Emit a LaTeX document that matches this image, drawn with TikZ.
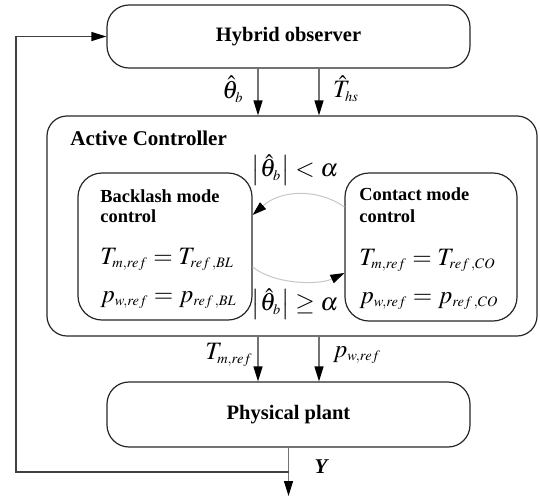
\documentclass[tikz,border=0pt]{standalone}
\usepackage{mathptmx}
\usepackage[no-math]{fontspec}
\setmainfont{Liberation Serif}
\usetikzlibrary{arrows.meta,calc}
\DeclareMathSizes{12.5}{12.5}{7.2}{5.5}
\tikzset{
 box/.style={draw=black!85, line width=0.6pt, rounded corners=11pt, align=center, font=\fontsize{10.25}{12}\selectfont\bfseries},
 inbox/.style={draw=black!85, line width=0.6pt, rounded corners=12pt},
 sig/.style={draw=black!55, line width=0.6pt, -{Triangle[length=7.5pt,width=4.5pt,color=black]}},
 fbk/.style={draw=black!75, line width=0.6pt, -{Triangle[length=7.5pt,width=4.5pt,color=black]}},
 arcln/.style={draw=black!22, line width=0.5pt, -{Triangle[length=7pt,width=4.5pt,color=black]}},
 lbl/.style={font=\fontsize{9.2}{11}\selectfont\bfseries, anchor=base west, inner sep=0pt},
 ttl/.style={font=\fontsize{10.5}{12}\selectfont\bfseries, anchor=base west, inner sep=0pt},
 eq/.style={font=\fontsize{12.5}{14}\selectfont, anchor=base west, inner sep=0pt},
 mlab/.style={font=\fontsize{12.5}{14}\selectfont, inner sep=0pt},
}
\begin{document}
\begin{tikzpicture}[x=0.5pt,y=-0.5pt]
\useasboundingbox (0,0) rectangle (540,499);
% main blocks
\node[box, minimum width=181.5pt, minimum height=31.5pt] (obs) at (288.5,36.5) {Hybrid observer};
\node[inbox, rounded corners=10pt, minimum width=245pt, minimum height=110pt] (ac) at (292,226) {};
\node[box, minimum width=181.5pt, minimum height=32.5pt] (plant) at (288.5,414.5) {Physical plant};
\node[ttl] (actl) at (70,145) {Active Controller};
% inner blocks
\node[inbox, minimum width=87pt, minimum height=73.5pt] (bl) at (165,246.5) {};
\node[inbox, minimum width=86pt, minimum height=74pt] (ct) at (431,247) {};
\node[lbl] (bl1) at (100,202) {Backlash mode};
\node[lbl] (bl2) at (100,222) {control};
\node[eq] (bl3) at (100,264) {$T_{m,ref}=T_{ref\,,BL}$};
\node[eq] (bl4) at (100,302) {$p_{w,ref}=p_{ref\,,BL}$};
\node[lbl] (ct1) at (359,200) {Contact mode};
\node[lbl] (ct2) at (359,222) {control};
\node[eq] (ct3) at (359,265) {$T_{m,ref}=T_{ref\,,CO}$};
\node[eq] (ct4) at (359,303) {$p_{w,ref}=p_{ref\,,CO}$};
% mode switching arcs
\draw[arcln] ([yshift=20pt]ct.west) .. controls +(-27,-19) and +(28,-25) .. ([yshift=15.75pt]bl.east);
\draw[arcln] ([yshift=-10.25pt]bl.east) .. controls +(23,18) and +(-25,12) .. ([yshift=-13pt]ct.west);
\node[mlab] (cond1) at (295,170) {$\left|\hat{\theta}_b\right| < \alpha$};
\node[mlab] (cond2) at (295,304) {$\left|\hat{\theta}_b\right| \geq \alpha$};
% signals
\draw[sig] ([xshift=-15.25pt]obs.south) -- ([xshift=-15.25pt]obs.south |- ac.north);
\draw[sig] ([xshift=15.25pt]obs.south) -- ([xshift=15.25pt]obs.south |- ac.north);
\node[mlab] (th) at (233,89) {$\hat{\theta}_b$};
\node[mlab] (ths) at (346,89) {$\hat{T}_{hs}$};
\draw[sig] ([xshift=-15.25pt]plant.north |- ac.south) -- ([xshift=-15.25pt]plant.north);
\draw[sig] ([xshift=15.25pt]plant.north |- ac.south) -- ([xshift=15.25pt]plant.north);
\node[mlab] (tm) at (229,355) {$T_{m,ref}$};
\node[mlab] (pw) at (357,355) {$p_{w,ref}$};
% output and feedback
\coordinate (yend) at (288.5,496);
\coordinate (fb) at (16,472);
\coordinate (j) at (plant.south |- fb);
\draw[sig] (plant.south) -- (yend);
\draw[fbk] (j) -- (fb) |- (obs.west);
\node[font=\fontsize{10.5}{12}\selectfont\bfseries\itshape, inner sep=0pt] (ylab) at (321,467) {Y};
\end{tikzpicture}
\end{document}
